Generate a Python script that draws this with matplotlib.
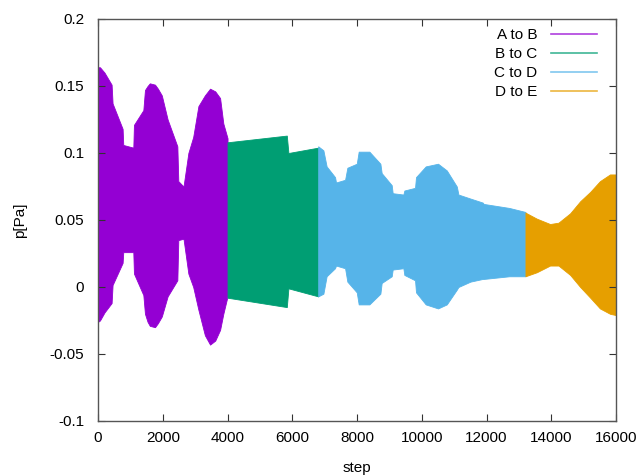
import matplotlib
matplotlib.use("Agg")
import matplotlib.pyplot as plt
from matplotlib.lines import Line2D

plt.rcParams['font.family'] = ['Liberation Sans', 'DejaVu Sans']

# Envelope of the densely oscillating pressure signal, per segment
steps_ab = [0, 60, 200, 420, 450, 760, 780, 1090, 1110, 1400, 1450, 1530, 1600, 1760, 1850,
            1970, 2150, 2450, 2480, 2640, 2790, 2940, 3100, 3300, 3460, 3620, 3770, 3870, 4000]
upper_ab = [0.164, 0.164, 0.160, 0.151, 0.137, 0.118, 0.106, 0.104, 0.121, 0.132, 0.147,
            0.150, 0.152, 0.151, 0.148, 0.143, 0.125, 0.105, 0.079, 0.075, 0.100, 0.112,
            0.135, 0.143, 0.148, 0.146, 0.141, 0.122, 0.111]
lower_ab = [-0.026, -0.025, -0.019, -0.012, 0.0015, 0.018, 0.026, 0.026, 0.010, -0.006,
            -0.020, -0.026, -0.029, -0.030, -0.027, -0.022, -0.007, 0.005, 0.035, 0.036,
            0.010, 0.000, -0.017, -0.036, -0.043, -0.040, -0.032, -0.020, -0.007]

steps_bc = [4000, 5830, 5880, 6800]
upper_bc = [0.108, 0.113, 0.100, 0.104]
lower_bc = [-0.008, -0.015, -0.001, -0.007]

steps_cd = [6800, 6960, 7060, 7320, 7350, 7630, 7700, 7990, 8050, 8380, 8720, 8760, 9070,
            9100, 9430, 9460, 9790, 9820, 10120, 10500, 10770, 11080, 11130, 11500, 11880,
            11910, 12700, 13200]
upper_cd = [0.105, 0.102, 0.090, 0.082, 0.078, 0.080, 0.089, 0.092, 0.101, 0.101, 0.092,
            0.085, 0.076, 0.070, 0.069, 0.072, 0.074, 0.082, 0.090, 0.092, 0.087, 0.075,
            0.069, 0.066, 0.063, 0.062, 0.059, 0.056]
lower_cd = [-0.007, -0.005, 0.008, 0.014, 0.016, 0.014, 0.004, -0.004, -0.013, -0.013,
            -0.005, 0.003, 0.008, 0.013, 0.014, 0.009, 0.005, -0.004, -0.013, -0.016,
            -0.013, -0.002, 0.000, 0.004, 0.006, 0.006, 0.008, 0.008]

steps_de = [13200, 13550, 13960, 14220, 14580, 14890, 15200, 15500, 15810, 16000]
upper_de = [0.0555, 0.051, 0.047, 0.048, 0.055, 0.064, 0.071, 0.079, 0.084, 0.084]
lower_de = [0.008, 0.011, 0.016, 0.016, 0.009, 0.000, -0.008, -0.016, -0.020, -0.021]

labels = ["A to B", "B to C", "C to D", "D to E"]
colors = ["#9400d3", "#009e73", "#56b4e9", "#e69f00"]

segments = [(steps_ab, upper_ab, lower_ab), (steps_bc, upper_bc, lower_bc),
            (steps_cd, upper_cd, lower_cd), (steps_de, upper_de, lower_de)]

fig = plt.figure(figsize=(6.41, 4.75), dpi=100)
ax = fig.add_axes([0.1529, 0.1137, 0.8083, 0.8463])

handles = []
for (s, u, l), c, lab in zip(segments, colors, labels):
    ax.fill_between(s, l, u, color=c, lw=0.6, edgecolor=c)
    handles.append(Line2D([], [], color=c, lw=1.2, alpha=0.75, label=lab))

ax.set_xlim(0, 16000)
ax.set_ylim(-0.1, 0.2)
ax.set_xticks(range(0, 16001, 2000))
ax.set_yticks([-0.1, -0.05, 0, 0.05, 0.1, 0.15, 0.2])
ax.set_yticklabels(["-0.1", "-0.05", "0", "0.05", "0.1", "0.15", "0.2"])
ax.tick_params(direction='in', top=True, right=True, length=5, labelsize=11,
               color='#333333')
ax.tick_params(axis='x', pad=7)
ax.tick_params(axis='y', pad=10)
for sp in ax.spines.values():
    sp.set_color('#555555')
    sp.set_linewidth(1.0)

ax.set_xlabel("step", fontsize=11, labelpad=12)
ax.set_ylabel("p[Pa]", fontsize=11, labelpad=16)

ax.legend(handles=handles, loc='upper right', frameon=False, markerfirst=False,
          fontsize=11, handlelength=3.0, labelspacing=0.32, borderaxespad=0,
          borderpad=0, bbox_to_anchor=(0.9633, 0.977), handletextpad=0.9)

fig.savefig("out.png", dpi=100)
